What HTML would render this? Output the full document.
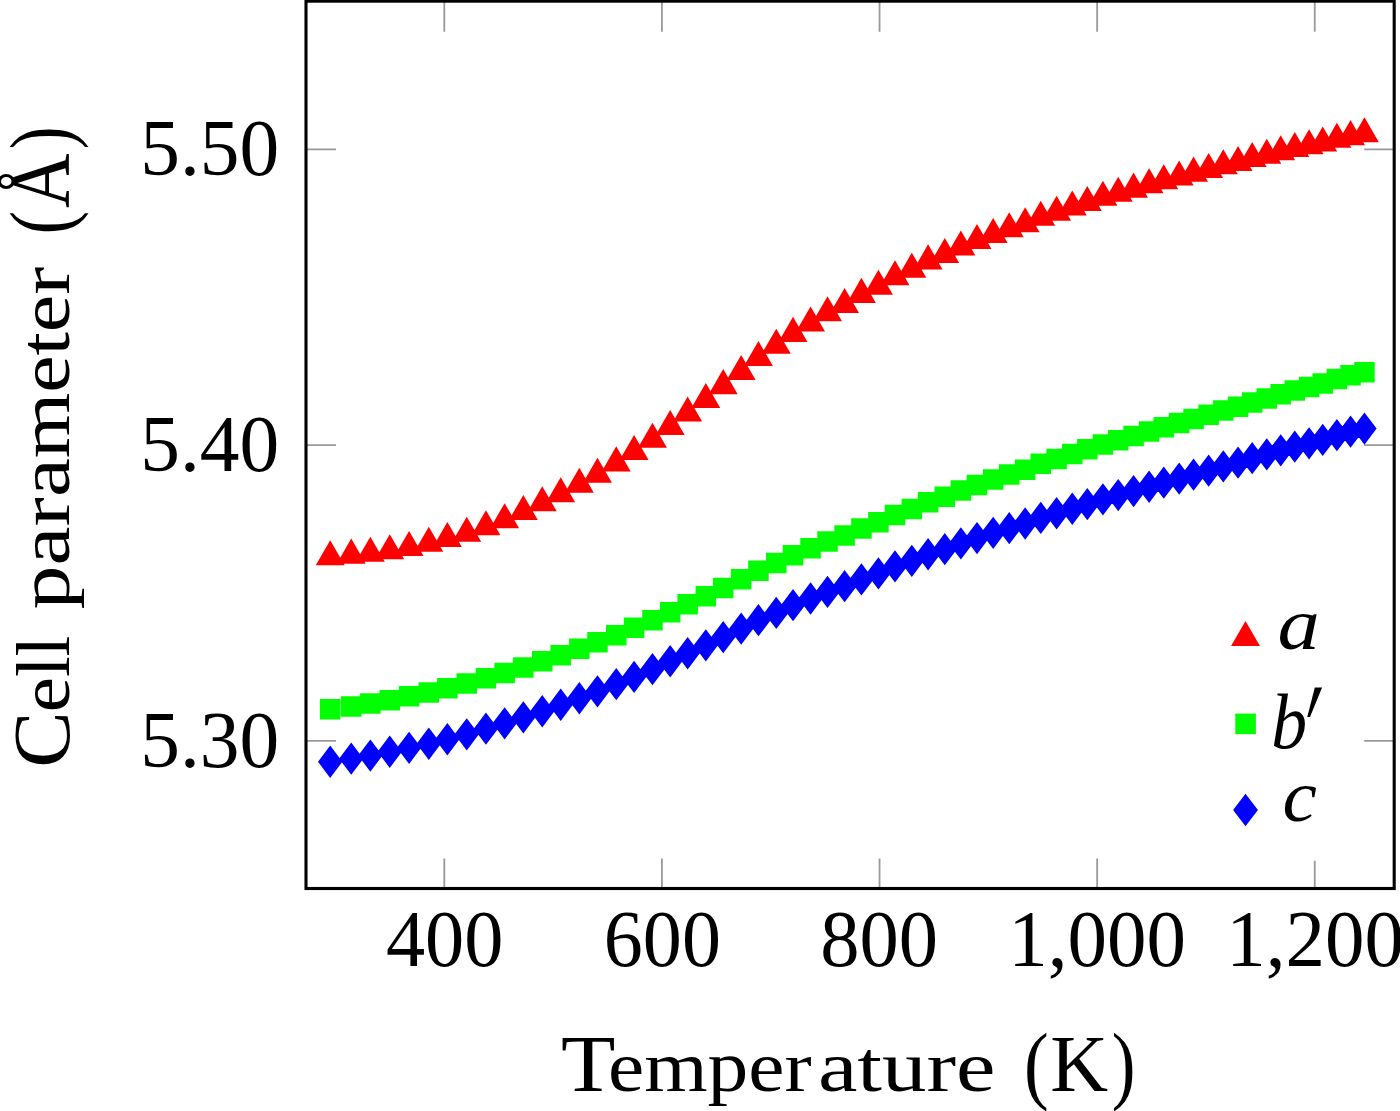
<!DOCTYPE html>
<html lang="en"><head><meta charset="utf-8"><title>Cell parameter vs temperature</title>
<style>html,body{margin:0;padding:0;background:#fff}body{width:1400px;height:1111px;overflow:hidden}svg{display:block}text{font-family:"Liberation Serif",serif;fill:#000}.it{font-style:italic}</style></head><body>
<svg role="img" aria-label="Cell parameter (Å) versus Temperature (K) for a, b′ and c" width="1400" height="1111" viewBox="0 0 1400 1111">
<rect width="1400" height="1111" fill="#fff"/>
<path d="M444.3 888.5V858.5M444.3 1.15V31.75M661.9 888.5V858.5M661.9 1.15V31.75M879.55 888.5V858.5M879.55 1.15V31.75M1097.15 888.5V858.5M1097.15 1.15V31.75M1314.75 888.5V860.7M1314.75 1.15V31.75M306 149.4H336M1394.2 149.4H1364.2M306 445.1H336M1394.2 445.1H1364.2M306 740.8H336M1394.2 740.8H1364.2" stroke="#999" stroke-width="1.8" fill="none"/>
<path fill="#f00" d="M330.2 540.3L344.66 565.35H315.74ZM351.23 538.6L365.69 563.65H336.77ZM370.34 536.7L384.8 561.75H355.87ZM389.76 534.29L404.22 559.34H375.3ZM409.08 530.99L423.55 556.04H394.62ZM428.8 526.8L443.26 551.85H414.34ZM447.36 522.02L461.83 547.07H432.9ZM466.74 516.76L481.2 541.81H452.28ZM485.94 510.14L500.41 535.19H471.48ZM504.63 503.17L519.09 528.22H490.16ZM523.35 495.01L537.81 520.06H508.89ZM542.26 486.31L556.72 511.36H527.79ZM560.71 477.28L575.17 502.33H546.25ZM579.35 467.64L593.81 492.69H564.88ZM597.46 457.74L611.92 482.79H583ZM616.25 446.36L630.71 471.41H601.78ZM634.09 435.06L648.56 460.11H619.63ZM652.47 422.73L666.93 447.78H638.01ZM670.18 409.97L684.65 435.02H655.72ZM687.66 396.43L702.12 421.48H673.2ZM705.81 382.98L720.27 408.03H691.34ZM723.22 369.11L737.69 394.16H708.76ZM741.17 355.07L755.63 380.12H726.71ZM758.46 341.06L772.92 366.11H744ZM776.28 328.65L790.74 353.7H761.81ZM793.02 316.85L807.48 341.9H778.55ZM810.56 306.52L825.03 331.57H796.1ZM827.52 296.32L841.99 321.37H813.06ZM844.59 287.94L859.06 312.99H830.13ZM861.42 277.86L875.89 302.91H846.96ZM878.43 269.65L892.9 294.7H863.97ZM894.99 260.15L909.46 285.2H880.53ZM911.81 252.67L926.27 277.72H897.34ZM928.1 244.33L942.56 269.38H913.64ZM944.78 237.9L959.24 262.95H930.32ZM960.87 230.55L975.34 255.6H946.41ZM977.01 223.99L991.47 249.04H962.55ZM993.18 217.89L1007.64 242.94H978.72ZM1009.26 212.26L1023.72 237.31H994.79ZM1025.16 207.28L1039.63 232.33H1010.7ZM1040.76 200.71L1055.22 225.76H1026.3ZM1056.61 195.73L1071.07 220.78H1042.14ZM1072.28 190.55L1086.75 215.6H1057.82ZM1087.3 185.94L1101.76 210.99H1072.84ZM1102.92 180.76L1117.38 205.81H1088.46ZM1118.23 176.68L1132.69 201.73H1103.77ZM1133.58 172.58L1148.04 197.63H1119.12ZM1149.11 168.22L1163.58 193.27H1134.65ZM1163.77 164.29L1178.24 189.34H1149.31ZM1179.18 160.4L1193.64 185.45H1164.72ZM1193.57 156.61L1208.03 181.66H1179.11ZM1208.64 152.97L1223.1 178.02H1194.17ZM1223.32 149.15L1237.78 174.2H1208.86ZM1238.05 145.94L1252.51 170.99H1223.59ZM1252.19 141.95L1266.65 167H1237.72ZM1266.78 138.67L1281.25 163.72H1252.32ZM1280.72 135.2L1295.19 160.25H1266.26ZM1294.77 131.92L1309.24 156.97H1280.31ZM1309.08 129.21L1323.54 154.26H1294.61ZM1322.72 126.44L1337.18 151.49H1308.26ZM1336.89 122.77L1351.35 147.82H1322.43ZM1350.55 120.1L1365.01 145.15H1336.08ZM1364.45 117.2L1378.91 142.25H1349.99Z"/>
<path fill="#0f0" d="M319.95 698.9h20.5v20.5h-20.5ZM340.98 696.3h20.5v20.5h-20.5ZM360.09 693.13h20.5v20.5h-20.5ZM379.51 689.97h20.5v20.5h-20.5ZM398.83 686.12h20.5v20.5h-20.5ZM418.55 682.19h20.5v20.5h-20.5ZM437.11 677.9h20.5v20.5h-20.5ZM456.49 673.19h20.5v20.5h-20.5ZM475.69 668.01h20.5v20.5h-20.5ZM494.38 662.66h20.5v20.5h-20.5ZM513.1 657.17h20.5v20.5h-20.5ZM532.01 651.03h20.5v20.5h-20.5ZM550.46 644.98h20.5v20.5h-20.5ZM569.1 638.52h20.5v20.5h-20.5ZM587.21 631.98h20.5v20.5h-20.5ZM606 624.9h20.5v20.5h-20.5ZM623.84 617.56h20.5v20.5h-20.5ZM642.22 610.08h20.5v20.5h-20.5ZM659.93 602.1h20.5v20.5h-20.5ZM677.41 594.02h20.5v20.5h-20.5ZM695.56 586.09h20.5v20.5h-20.5ZM712.97 577.79h20.5v20.5h-20.5ZM730.92 569.09h20.5v20.5h-20.5ZM748.21 560.53h20.5v20.5h-20.5ZM766.03 552.76h20.5v20.5h-20.5ZM782.77 544.94h20.5v20.5h-20.5ZM800.31 538.05h20.5v20.5h-20.5ZM817.27 531.17h20.5v20.5h-20.5ZM834.34 525.21h20.5v20.5h-20.5ZM851.17 518.2h20.5v20.5h-20.5ZM868.18 512.09h20.5v20.5h-20.5ZM884.74 504.71h20.5v20.5h-20.5ZM901.56 498.7h20.5v20.5h-20.5ZM917.85 491.99h20.5v20.5h-20.5ZM934.53 486.51h20.5v20.5h-20.5ZM950.62 480.17h20.5v20.5h-20.5ZM966.76 474.85h20.5v20.5h-20.5ZM982.93 469.23h20.5v20.5h-20.5ZM999.01 464.27h20.5v20.5h-20.5ZM1014.91 459.51h20.5v20.5h-20.5ZM1030.51 453.49h20.5v20.5h-20.5ZM1046.36 448.76h20.5v20.5h-20.5ZM1062.03 443.82h20.5v20.5h-20.5ZM1077.05 438.98h20.5v20.5h-20.5ZM1092.67 434.13h20.5v20.5h-20.5ZM1107.98 429.99h20.5v20.5h-20.5ZM1123.33 425.79h20.5v20.5h-20.5ZM1138.86 421.32h20.5v20.5h-20.5ZM1153.52 417.09h20.5v20.5h-20.5ZM1168.93 412.82h20.5v20.5h-20.5ZM1183.32 408.83h20.5v20.5h-20.5ZM1198.39 404.55h20.5v20.5h-20.5ZM1213.07 400.32h20.5v20.5h-20.5ZM1227.8 396.47h20.5v20.5h-20.5ZM1241.94 392.22h20.5v20.5h-20.5ZM1256.53 388.19h20.5v20.5h-20.5ZM1270.47 384.09h20.5v20.5h-20.5ZM1284.52 380.13h20.5v20.5h-20.5ZM1298.83 376.79h20.5v20.5h-20.5ZM1312.47 373.15h20.5v20.5h-20.5ZM1326.64 368.64h20.5v20.5h-20.5ZM1340.3 365h20.5v20.5h-20.5ZM1354.2 362h20.5v20.5h-20.5Z"/>
<path fill="#00f" d="M330.2 745.6L342.35 761.75L330.2 777.9L318.05 761.75ZM351.23 742.5L363.38 758.65L351.23 774.8L339.08 758.65ZM370.34 739.38L382.49 755.53L370.34 771.68L358.19 755.53ZM389.76 735.61L401.91 751.76L389.76 767.91L377.61 751.76ZM409.08 731.7L421.23 747.85L409.08 764L396.93 747.85ZM428.8 727.6L440.95 743.75L428.8 759.9L416.65 743.75ZM447.36 723.11L459.51 739.26L447.36 755.41L435.21 739.26ZM466.74 718.17L478.89 734.32L466.74 750.47L454.59 734.32ZM485.94 712.5L498.09 728.65L485.94 744.8L473.79 728.65ZM504.63 707.16L516.78 723.31L504.63 739.46L492.48 723.31ZM523.35 701.13L535.5 717.28L523.35 733.43L511.2 717.28ZM542.26 695.08L554.41 711.23L542.26 727.38L530.11 711.23ZM560.71 688.62L572.86 704.77L560.71 720.92L548.56 704.77ZM579.35 682.09L591.5 698.24L579.35 714.39L567.2 698.24ZM597.46 675.2L609.61 691.35L597.46 707.5L585.31 691.35ZM616.25 668.01L628.4 684.16L616.25 700.31L604.1 684.16ZM634.09 660.78L646.24 676.93L634.09 693.08L621.94 676.93ZM652.47 653.05L664.62 669.2L652.47 685.35L640.32 669.2ZM670.18 645.1L682.33 661.25L670.18 677.4L658.03 661.25ZM687.66 637.11L699.81 653.26L687.66 669.41L675.51 653.26ZM705.81 629.19L717.96 645.34L705.81 661.49L693.66 645.34ZM723.22 621L735.37 637.15L723.22 653.3L711.07 637.15ZM741.17 612.57L753.32 628.72L741.17 644.87L729.02 628.72ZM758.46 604.06L770.61 620.21L758.46 636.36L746.31 620.21ZM776.28 596.73L788.43 612.88L776.28 629.03L764.13 612.88ZM793.02 589.05L805.17 605.2L793.02 621.35L780.87 605.2ZM810.56 582.36L822.71 598.51L810.56 614.66L798.41 598.51ZM827.52 575.81L839.67 591.96L827.52 608.11L815.37 591.96ZM844.59 570.02L856.74 586.17L844.59 602.32L832.44 586.17ZM861.42 563.28L873.57 579.43L861.42 595.58L849.27 579.43ZM878.43 557.3L890.58 573.45L878.43 589.6L866.28 573.45ZM894.99 550.31L907.14 566.46L894.99 582.61L882.84 566.46ZM911.81 544.69L923.96 560.84L911.81 576.99L899.66 560.84ZM928.1 538.11L940.25 554.26L928.1 570.41L915.95 554.26ZM944.78 533.02L956.93 549.17L944.78 565.32L932.63 549.17ZM960.87 527.24L973.02 543.39L960.87 559.54L948.72 543.39ZM977.01 521.88L989.16 538.03L977.01 554.18L964.86 538.03ZM993.18 516.72L1005.33 532.87L993.18 549.02L981.03 532.87ZM1009.26 512.06L1021.41 528.21L1009.26 544.36L997.11 528.21ZM1025.16 507.35L1037.31 523.5L1025.16 539.65L1013.01 523.5ZM1040.76 501.75L1052.91 517.9L1040.76 534.05L1028.61 517.9ZM1056.61 497.09L1068.76 513.24L1056.61 529.39L1044.46 513.24ZM1072.28 492.6L1084.43 508.75L1072.28 524.9L1060.13 508.75ZM1087.3 487.98L1099.45 504.13L1087.3 520.28L1075.15 504.13ZM1102.92 483.13L1115.07 499.28L1102.92 515.43L1090.77 499.28ZM1118.23 478.9L1130.38 495.05L1118.23 511.2L1106.08 495.05ZM1133.58 474.88L1145.73 491.03L1133.58 507.18L1121.43 491.03ZM1149.11 470.61L1161.26 486.76L1149.11 502.91L1136.96 486.76ZM1163.77 466.5L1175.92 482.65L1163.77 498.8L1151.62 482.65ZM1179.18 462.5L1191.33 478.65L1179.18 494.8L1167.03 478.65ZM1193.57 458.55L1205.72 474.7L1193.57 490.85L1181.42 474.7ZM1208.64 454.48L1220.79 470.63L1208.64 486.78L1196.49 470.63ZM1223.32 450.25L1235.47 466.4L1223.32 482.55L1211.17 466.4ZM1238.05 446.54L1250.2 462.69L1238.05 478.84L1225.9 462.69ZM1252.19 442.05L1264.34 458.2L1252.19 474.35L1240.04 458.2ZM1266.78 438.26L1278.93 454.41L1266.78 470.56L1254.63 454.41ZM1280.72 434.21L1292.87 450.36L1280.72 466.51L1268.57 450.36ZM1294.77 430.51L1306.92 446.66L1294.77 462.81L1282.62 446.66ZM1309.08 427.22L1321.23 443.37L1309.08 459.52L1296.93 443.37ZM1322.72 423.82L1334.87 439.97L1322.72 456.12L1310.57 439.97ZM1336.89 419.07L1349.04 435.22L1336.89 451.37L1324.74 435.22ZM1350.55 415.5L1362.7 431.65L1350.55 447.8L1338.4 431.65ZM1364.45 412.4L1376.6 428.55L1364.45 444.7L1352.3 428.55Z"/>
<rect x="306" y="1.15" width="1088.2" height="887.35" fill="none" stroke="#000" stroke-width="3.1"/>
<path fill="#f00" d="M1245.5 620.9L1259.96 645.95H1231.04Z"/>
<path fill="#0f0" d="M1235.3 713.55h20.6v20.6h-20.6Z"/>
<path fill="#00f" d="M1245.5 793.8L1257.9 810L1245.5 826.2L1233.1 810Z"/>
<text x="140.25" y="175.4" font-size="80.3" textLength="139.05" lengthAdjust="spacingAndGlyphs">5.50</text>
<text x="140.25" y="471.1" font-size="80.3" textLength="139.05" lengthAdjust="spacingAndGlyphs">5.40</text>
<text x="140.25" y="766.8" font-size="80.3" textLength="139.05" lengthAdjust="spacingAndGlyphs">5.30</text>
<text x="385.95" y="966.1" font-size="80.3" textLength="117.53" lengthAdjust="spacingAndGlyphs">400</text>
<text x="603.85" y="966.1" font-size="80.3" textLength="117.08" lengthAdjust="spacingAndGlyphs">600</text>
<text x="820.3" y="966.1" font-size="80.3" textLength="117.71" lengthAdjust="spacingAndGlyphs">800</text>
<text x="1008.3" y="966.1" font-size="80.3" textLength="177.72" lengthAdjust="spacingAndGlyphs">1,000</text>
<text x="1226.3" y="966.1" font-size="80.3" textLength="177.72" lengthAdjust="spacingAndGlyphs">1,200</text>
<text><tspan x="560.9" y="1091.4" font-size="80.5" textLength="54.44" lengthAdjust="spacingAndGlyphs">T</tspan><tspan x="608.05" y="1091.4" font-size="71.5" textLength="203.57" lengthAdjust="spacingAndGlyphs">emper</tspan><tspan x="817.95" y="1091.4" font-size="71.5" textLength="177.55" lengthAdjust="spacingAndGlyphs">ature</tspan><tspan font-size="40"> </tspan><tspan x="1024" y="1093" font-size="86.7" textLength="24.7" lengthAdjust="spacingAndGlyphs">(</tspan><tspan x="1050.2" y="1091.4" font-size="80.5" textLength="57.94" lengthAdjust="spacingAndGlyphs">K</tspan><tspan x="1111.65" y="1093" font-size="86.7" textLength="23.68" lengthAdjust="spacingAndGlyphs">)</tspan></text>
<text transform="translate(69 0) rotate(-90)"><tspan x="-767.8" y="0" font-size="80.5" textLength="56.31" lengthAdjust="spacingAndGlyphs">C</tspan><tspan x="-712.2" y="0" font-size="71.5" textLength="35.19" lengthAdjust="spacingAndGlyphs">e</tspan><tspan x="-677.05" y="0" font-size="75.5" textLength="41.3" lengthAdjust="spacingAndGlyphs">ll</tspan><tspan font-size="40"> </tspan><tspan x="-609.4" y="0" font-size="71.5" textLength="151.31" lengthAdjust="spacingAndGlyphs">para</tspan><tspan x="-458.25" y="0" font-size="71.5" textLength="191.46" lengthAdjust="spacingAndGlyphs">meter</tspan><tspan font-size="40"> </tspan><tspan x="-234.3" y="1.4" font-size="86.7" textLength="23.39" lengthAdjust="spacingAndGlyphs">(</tspan><tspan x="-207.95" y="0" font-size="86" textLength="54.46" lengthAdjust="spacingAndGlyphs">Å</tspan><tspan x="-149.25" y="1.4" font-size="86.7" textLength="22.85" lengthAdjust="spacingAndGlyphs">)</tspan></text>
<text class="it" x="1277.5" y="648.8" font-size="73.5" textLength="42.3" lengthAdjust="spacingAndGlyphs">a</text>
<text class="it" x="1271.25" y="748" font-size="78" textLength="35.82" lengthAdjust="spacingAndGlyphs">b</text><text transform="translate(1293.2 770.1) skewX(-11) scale(0.6 1)" font-size="126">′</text>
<text class="it" x="1282.55" y="821.2" font-size="73.5" textLength="34.37" lengthAdjust="spacingAndGlyphs">c</text>
</svg></body></html>
